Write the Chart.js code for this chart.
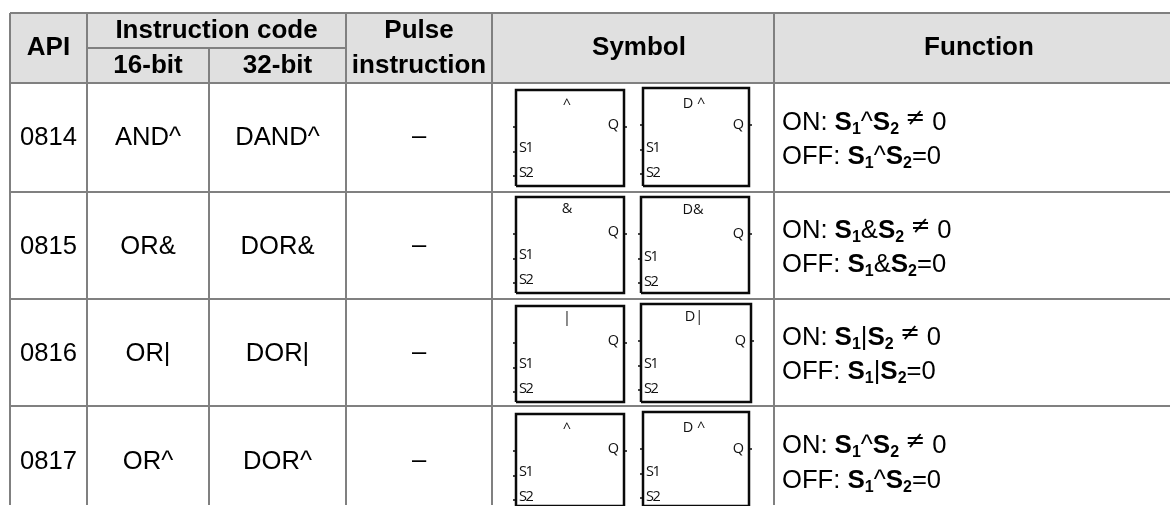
<!DOCTYPE html>
<html>
<head>
<meta charset="utf-8">
<title>API 0814-0817</title>
<script src="https://cdn.jsdelivr.net/npm/chart.js@4/dist/chart.umd.js"></script>
<style>
  html, body { margin: 0; padding: 0; background: #fff; }
  #wrap { width: 1170px; height: 506px; overflow: hidden; }
</style>
</head>
<body>
<div id="wrap"><canvas id="myChart" width="1170" height="506"></canvas></div>
<script>
// Table content
const apiCodes = ['0814', '0815', '0816', '0817'];
const codes16 = ['AND^', 'OR&', 'OR|', 'OR^'];
const codes32 = ['DAND^', 'DOR&', 'DOR|', 'DOR^'];
const pulseMarks = ['–', '–', '–', '–'];
const operators = ['^', '&', '|', '^'];
const symbolLabels = ['^', '&', '|', '^'];
const symbolLabelsD = ['D ^', 'D&', 'D|', 'D ^'];

// Table layout, in scale units
const columnEdges = [10, 87, 209, 346, 492, 774, 1170];
const rowEdges = [13, 83, 192, 299, 406];
const subHeaderEdge = 48;
const tableBottom = 505;
const symbolCentre = 639;
const functionCentre = 979;
const functionLeft = 782;
const bodyBaselines = [145, 254, 361, 469];
const onBaselines = [130, 238, 345, 453];
const offBaselines = [164, 272, 379, 488];

// Symbol boxes: one per row, plain and D version
const boxesA = [
    { left: 516, right: 624, top: 90, bottom: 186 },
    { left: 516, right: 624, top: 197, bottom: 293 },
    { left: 516, right: 624, top: 306, bottom: 402 },
    { left: 516, right: 624, top: 414, bottom: 506 }
];
const boxesD = [
    { left: 643, right: 749, top: 88, bottom: 186 },
    { left: 641, right: 749, top: 197, bottom: 293 },
    { left: 641, right: 751, top: 304, bottom: 402 },
    { left: 643, right: 749, top: 412, bottom: 506 }
];

const GRID = '#808080';
const HEADER = '#e0e0e0';
const BOX = '#0a0a0a';
const SANS = '"Liberation Sans", Arial, sans-serif';

function segment(x1, y1, x2, y2, color, width) {
    return {
        data: [{ x: x1, y: y1 }, { x: x2, y: y2 }],
        borderColor: color,
        borderWidth: width,
        pointRadius: 0,
        fill: false,
        tension: 0
    };
}

const datasets = [];

// Righe e colonne della griglia
rowEdges.forEach(y => datasets.push(segment(columnEdges[0], y, 1170, y, GRID, 2)));
datasets.push(segment(columnEdges[1], subHeaderEdge, columnEdges[3], subHeaderEdge, GRID, 2));
columnEdges.slice(0, 6).forEach((x, i) => {
    const top = i === 2 ? subHeaderEdge : rowEdges[0];
    datasets.push(segment(x, top, x, tableBottom, GRID, 2));
});

// Box dei simboli con i piedini
[boxesA, boxesD].forEach(list => {
    list.forEach(b => {
        datasets.push({
            data: [
                { x: b.left, y: b.bottom }, { x: b.left, y: b.top }, { x: b.right, y: b.top },
                { x: b.right, y: b.bottom }, { x: b.left, y: b.bottom }
            ],
            borderColor: BOX, borderWidth: 2.5, pointRadius: 0, fill: false, tension: 0
        });
        [37, 62, 86].forEach(dy => {
            datasets.push(segment(b.left - 3, b.top + dy, b.left, b.top + dy, BOX, 1.5));
        });
        datasets.push(segment(b.right, b.top + 37, b.right + 3, b.top + 37, BOX, 1.5));
    });
});

// Sfondo intestazione, ultimo cosi' resta sotto a tutto
datasets.push({
    data: [{ x: columnEdges[0], y: rowEdges[1] }, { x: 1170, y: rowEdges[1] }],
    borderWidth: 0,
    pointRadius: 0,
    backgroundColor: HEADER,
    fill: { value: rowEdges[0] }
});

function centreOf(col) {
    return (columnEdges[col] + columnEdges[col + 1]) / 2;
}

// Disegna una riga con parti di font diverso, da sinistra a destra
function drawRuns(ctx, x, y, runs) {
    let cursor = x;
    ctx.textAlign = 'left';
    runs.forEach(r => {
        ctx.font = r.font;
        cursor += r.gap || 0;
        ctx.fillText(r.text, cursor, y + (r.dy || 0));
        cursor += ctx.measureText(r.text).width;
    });
}

const tableText = {
    id: 'tableText',
    afterDatasetsDraw(chart) {
        const ctx = chart.ctx;
        const sx = chart.scales.x;
        const sy = chart.scales.y;
        const px = v => sx.getPixelForValue(v);
        const py = v => sy.getPixelForValue(v);
        const put = (text, x, y, font, color) => {
            ctx.font = font;
            ctx.fillStyle = color || '#000';
            ctx.textAlign = 'center';
            ctx.fillText(text, px(x), py(y));
        };
        ctx.save();
        ctx.textBaseline = 'alphabetic';

        // Intestazione
        const bold = 'bold 26px ' + SANS;
        put('API', centreOf(0), 55, bold);
        put('Instruction code', (columnEdges[1] + columnEdges[3]) / 2, 38, bold);
        put('16-bit', centreOf(1), 73, bold);
        put('32-bit', centreOf(2), 73, bold);
        put('Pulse', centreOf(3), 38, bold);
        put('instruction', centreOf(3), 73, bold);
        put('Symbol', symbolCentre, 55, bold);
        put('Function', functionCentre, 55, bold);

        // Righe
        const body = '25.6px ' + SANS;
        const boldBody = 'bold 26px ' + SANS;
        const sub = 'bold 16px ' + SANS;
        apiCodes.forEach((code, i) => {
            put(code, centreOf(0), bodyBaselines[i], body);
            put(codes16[i], centreOf(1), bodyBaselines[i], body);
            put(codes32[i], centreOf(2), bodyBaselines[i], body);
            put(pulseMarks[i], centreOf(3), bodyBaselines[i] - 1, body);

            const expr = [
                { text: 'S', font: boldBody },
                { text: '1', font: sub, dy: 4 },
                { text: operators[i], font: body },
                { text: 'S', font: boldBody },
                { text: '2', font: sub, dy: 4 }
            ];
            ctx.fillStyle = '#000';
            drawRuns(ctx, px(functionLeft), py(onBaselines[i]), [
                { text: 'ON: ', font: body }, ...expr,
                { text: '≠', font: '24px "DejaVu Sans"', gap: 6, dy: -5 },
                { text: '0', font: body, gap: 7 }
            ]);
            drawRuns(ctx, px(functionLeft), py(offBaselines[i]), [
                { text: 'OFF: ', font: body }, ...expr,
                { text: '=0', font: body }
            ]);

            // Testi dei simboli
            const small = '14.5px "Open Sans"';
            [[boxesA[i], symbolLabels[i]], [boxesD[i], symbolLabelsD[i]]].forEach(([b, label], k) => {
                const base = k === 0 ? b.top : b.top + 2;
                ctx.fillStyle = '#111';
                ctx.font = small;
                ctx.letterSpacing = '-1.5px';
                ctx.textAlign = 'left';
                ctx.fillText('S1', px(b.left + 3), py(base + 62));
                ctx.fillText('S2', px(b.left + 3), py(base + 87));
                ctx.letterSpacing = '0px';
                ctx.textAlign = 'right';
                ctx.fillText('Q', px(b.right - 5), py(base + 39));
                ctx.textAlign = 'center';
                const lift = label.includes('^') ? 3 : 0;
                ctx.fillText(label, px((b.left + b.right) / 2 - (k === 0 ? 3 : 2)),
                    py(b.top + (k === 0 ? 16 : 17) + lift));
            });
        });
        ctx.restore();
    }
};

new Chart(document.getElementById('myChart').getContext('2d'), {
    type: 'line',
    data: { datasets: datasets },
    options: {
        responsive: false,
        animation: false,
        devicePixelRatio: 1,
        layout: { padding: 0 },
        scales: {
            x: { type: 'linear', display: false, min: 0, max: 1170 },
            y: { type: 'linear', display: false, min: 0, max: 506, reverse: true }
        },
        plugins: {
            legend: { display: false },
            title: { display: false },
            tooltip: { enabled: false }
        }
    },
    plugins: [tableText]
});
</script>
</body>
</html>
